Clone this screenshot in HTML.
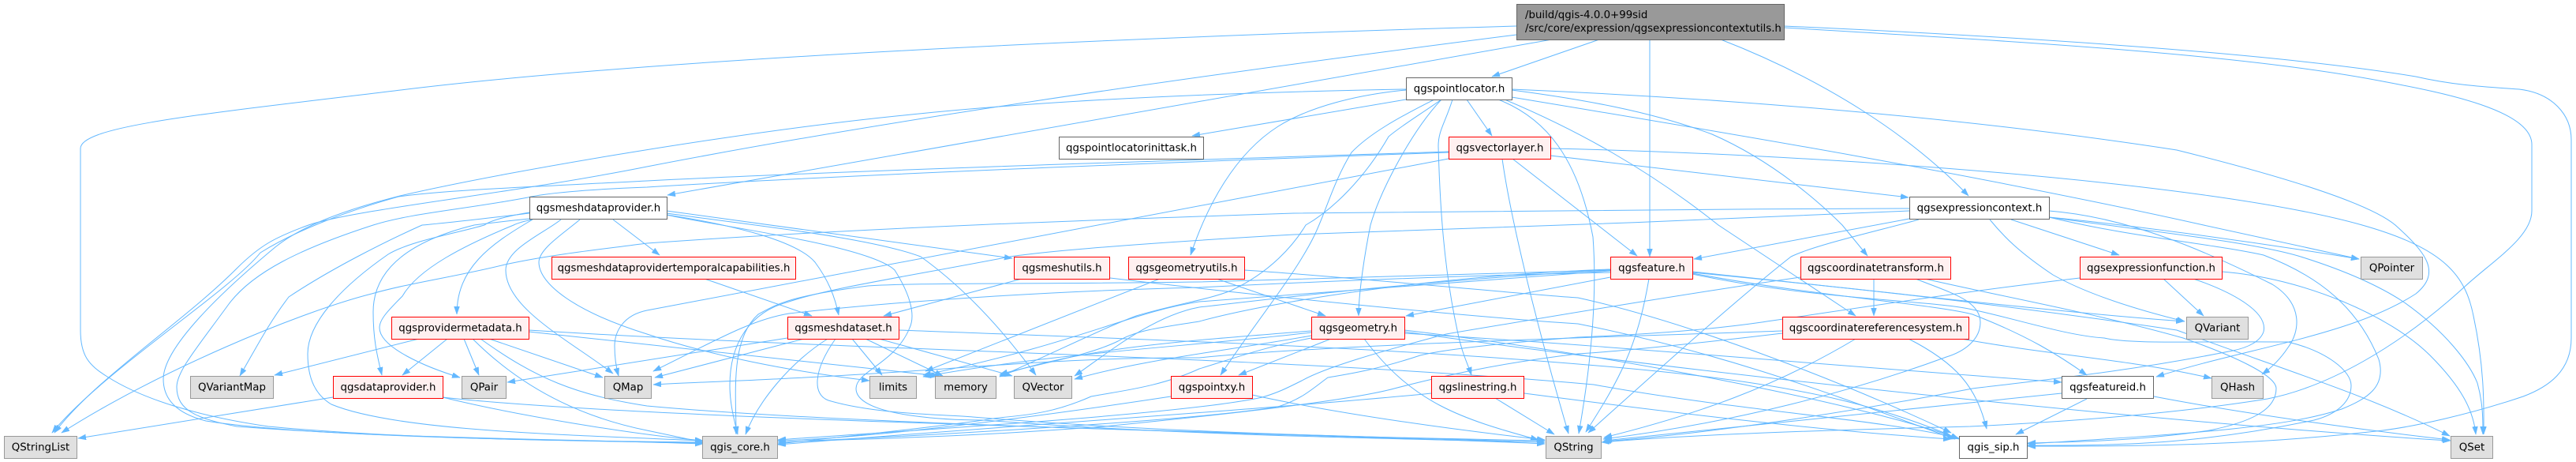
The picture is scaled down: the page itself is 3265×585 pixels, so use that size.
<!DOCTYPE html>
<html>
<head>
<meta charset="utf-8">
<title>qgsexpressioncontextutils.h include graph</title>
<style>
html,body{margin:0;padding:0;background:#fff;width:3265px;height:585px;overflow:hidden}
svg{display:block}
text{font-family:"DejaVu Sans","Liberation Sans",sans-serif;font-size:13.33px;fill:#000;text-anchor:middle}
.e path{fill:none;stroke:#63b8ff;stroke-width:1;marker-end:url(#a)}
.w{fill:#fff;stroke:#666;stroke-width:1}
.r{fill:#fff0f0;stroke:#f00;stroke-width:1}
.g{fill:#e0e0e0;stroke:#999;stroke-width:1}
</style>
</head>
<body>
<svg xmlns="http://www.w3.org/2000/svg" width="3265" height="585" viewBox="0 0 3265 585">
<defs>
<marker id="a" markerUnits="userSpaceOnUse" markerWidth="12" markerHeight="9" refX="10" refY="3.5" orient="auto"><path d="M0 0L10 3.5L0 7z" fill="#63b8ff" stroke="#63b8ff" stroke-width="0.5"/></marker>
</defs>
<g class="e">
<path d="M2027 50L1891 97"/>
<path d="M2091 50L2091 325"/>
<path d="M2181 50C2310 100 2420 170 2495 248"/>
<path d="M1922 33C1400 48 820 75 500 115C250 145 102 160 102 188L102 418C102 450 112 462 136 477C180 505 250 527 340 540C500 555 700 558 891 561"/>
<path d="M1922 44C1600 85 1160 145 820 211C650 245 450 265 391 285C350 300 330 310 300 340C230 410 120 480 69 548"/>
<path d="M1967 50L846 247"/>
<path d="M2261 33C2600 48 2900 70 3062 97C3110 108 3150 110 3193 113C3235 118 3259 145 3259 177L3259 428C3259 470 3230 490 3198 502C3130 525 3060 540 3020 545C2850 565 2700 565 2570 565"/>
<path d="M2261 35C2600 55 2850 70 3020 103C3100 118 3209 140 3209 183L3209 267C3209 300 3160 330 3125 362C3040 440 2950 490 2874 505C2750 525 2600 535 2497 540C2300 545 2150 550 2030 560"/>
<path d="M1782 113C1500 118 1300 130 1155 145C950 165 650 215 507 248C440 265 384 285 350 312C280 370 207 440 207 480C207 510 230 525 261 533C400 555 700 555 891 562"/>
<path d="M1782 126L1511 172"/>
<path d="M1782 114C1720 120 1660 135 1620 160C1565 195 1530 260 1509 323"/>
<path d="M1818 126C1770 150 1735 170 1713 193C1690 230 1680 270 1665 300C1640 350 1590 410 1547 475"/>
<path d="M1827 126C1800 145 1775 160 1760 173C1730 225 1690 265 1655 285C1640 310 1610 345 1560 368C1530 380 1490 385 1440 400C1400 415 1350 440 1267 477"/>
<path d="M1827 126C1790 165 1750 240 1737 285C1730 320 1722 370 1722 400"/>
<path d="M1841 126C1832 155 1823 165 1823 185C1825 260 1830 340 1847 418C1852 445 1860 460 1865 475"/>
<path d="M1859 126L1891 172"/>
<path d="M1899 126C1960 150 2000 200 2019 300C2025 380 2015 470 2001 549"/>
<path d="M1907 126C2000 165 2090 215 2178 285L2352 400"/>
<path d="M1916 114C2000 125 2090 140 2170 170C2250 205 2310 260 2335 285L2367 324"/>
<path d="M1916 113C2200 125 2500 150 2759 190C2880 220 3000 255 3036 285C3075 320 3095 345 3062 372C2980 425 2850 440 2733 477"/>
<path d="M1916 123C2200 170 2500 220 2793 285L2990 328"/>
<path d="M1917 201L2075 324"/>
<path d="M1904 201C1915 280 1950 420 1988 549"/>
<path d="M1965 197L2419 250"/>
<path d="M1965 188C2300 195 2800 230 2994 285C3100 315 3125 350 3135 400C3150 470 3148 520 3148 550"/>
<path d="M1836 192C1500 203 1100 215 820 229C690 236 570 240 505 249C430 270 370 295 330 320C290 370 130 470 66 548"/>
<path d="M1836 193C1500 205 1100 220 820 237C740 240 690 245 669 250C590 265 520 270 473 285C380 315 320 345 290 385C250 440 224 470 224 490C224 520 250 530 300 540C500 555 700 558 891 560"/>
<path d="M1836 201L820 393C790 399 779 420 779 438C779 450 780 462 784 476"/>
<path d="M671 269C640 274 620 280 614 285C580 295 520 305 492 322C430 365 390 410 390 448C390 480 400 500 420 512C500 545 700 550 891 558"/>
<path d="M671 277C640 280 625 282 601 285C520 305 473 340 473 395C473 430 478 450 484 475"/>
<path d="M675 278C665 280 655 283 651 285C590 310 530 340 510 375C490 395 481 405 481 415C481 440 540 465 583 478"/>
<path d="M675 278C620 310 579 340 579 398"/>
<path d="M711 278C690 295 641 315 641 342C641 390 720 430 777 473"/>
<path d="M735 278C715 295 683 315 683 332C683 360 730 395 820 423C900 450 1000 470 1102 482"/>
<path d="M777 278L836 323"/>
<path d="M845 267L1283 327"/>
<path d="M845 272C930 285 1010 305 1033 332C1050 355 1058 375 1063 399"/>
<path d="M845 272C900 285 1100 310 1134 342C1155 375 1160 400 1153 415C1135 460 1085 470 1085 492C1085 530 1220 532 1247 532C1500 552 1800 556 1958 560"/>
<path d="M845 270C950 285 1100 300 1167 325C1230 370 1280 430 1313 475"/>
<path d="M671 270C620 276 570 282 535 285C490 305 420 340 366 376C340 410 325 440 304 476"/>
<path d="M893 353L1029 400"/>
<path d="M1019 429L830 478"/>
<path d="M998 428L643 484"/>
<path d="M1049 429C1000 460 960 510 945 550"/>
<path d="M1059 429C1030 470 1030 500 1050 507C1110 525 1200 525 1233 528C1500 550 1800 555 1958 558"/>
<path d="M1080 429L1118 475"/>
<path d="M1097 429L1195 476"/>
<path d="M1114 429L1283 476"/>
<path d="M1140 418C1400 428 1800 440 2100 470C2300 490 2400 520 2483 556"/>
<path d="M1295 353L1120 400"/>
<path d="M1407 352C1600 375 1850 400 2000 410C2200 450 2350 510 2478 556"/>
<path d="M1470 353L1173 470"/>
<path d="M1542 353L1680 400"/>
<path d="M1577 342C1700 350 1900 370 2000 377C2150 410 2350 490 2473 548"/>
<path d="M1687 429L1570 475"/>
<path d="M1729 429C1790 510 1850 530 1950 557"/>
<path d="M1662 419C1500 432 1370 440 1267 476"/>
<path d="M1662 421C1500 440 1350 445 1170 477"/>
<path d="M1662 425C1550 445 1450 455 1362 480"/>
<path d="M1662 428C1600 440 1560 455 1520 467C1470 490 1420 495 1383 502C1320 530 1280 525 1247 532C1150 545 1050 555 986 562"/>
<path d="M1780 418C2050 450 2350 510 2473 552"/>
<path d="M1780 420C2200 480 2800 540 3106 558"/>
<path d="M1780 422C2000 435 2267 458 2520 477L2613 484"/>
<path d="M670 418C1100 445 1600 450 2020 487C2200 520 2380 530 2483 555"/>
<path d="M670 420L1190 476"/>
<path d="M2041 351L1782 400"/>
<path d="M2090 353C2075 440 2053 480 2010 547"/>
<path d="M2041 342C1800 355 1600 380 1520 389C1460 400 1400 450 1362 476"/>
<path d="M2041 341C1800 350 1600 385 1520 407C1470 415 1440 418 1417 432C1380 450 1320 460 1267 474"/>
<path d="M2041 345C1800 350 1600 360 1520 364C1350 368 1150 380 1000 397C950 405 900 435 828 470"/>
<path d="M2041 343C1800 360 1600 375 1520 382C1433 395 1367 435 1170 475"/>
<path d="M2041 342C1800 348 1600 355 1520 357C1300 360 1150 358 1100 362C1000 375 985 385 961 398C925 430 933 500 933 550"/>
<path d="M2420 267C2200 277 1800 293 1640 297C1500 305 1350 315 1280 325C1150 350 1050 365 1000 382C950 395 925 435 925 488C925 510 930 530 935 550"/>
<path d="M2145 344C2350 365 2600 395 2768 407"/>
<path d="M2145 346C2300 375 2450 385 2500 398C2570 425 2610 450 2645 475"/>
<path d="M2145 345C2300 360 2500 380 2759 418C2900 470 3000 500 3105 552"/>
<path d="M2145 347C2300 380 2450 380 2500 392C2560 405 2620 425 2667 428C2700 436 2780 432 2900 433C2950 445 2980 470 2980 488C2980 510 2960 525 2933 532C2800 560 2700 565 2570 564"/>
<path d="M2440 353C2520 372 2650 395 2767 428C2830 450 2885 475 2885 492C2885 520 2850 535 2800 545C2700 560 2600 560 2570 561"/>
<path d="M2420 264C2100 265 1700 268 1640 270C1400 278 1100 288 820 308C760 316 700 322 640 335C580 350 520 358 471 372C380 395 200 470 78 548"/>
<path d="M2420 277L2147 328"/>
<path d="M2432 278C2390 290 2300 310 2270 325C2200 380 2100 470 2013 548"/>
<path d="M2522 278C2540 300 2560 320 2602 348C2650 375 2720 395 2769 407"/>
<path d="M2549 278L2686 323"/>
<path d="M2597 267C2700 275 2800 320 2880 360C2920 385 2915 420 2900 440C2890 455 2880 465 2867 474"/>
<path d="M2597 275C2700 285 2850 305 2990 328"/>
<path d="M2597 275C2700 300 2800 308 2869 323C2940 350 2989 390 3015 455C3025 490 3000 505 2968 518C2900 540 2800 548 2570 562"/>
<path d="M2597 275C2700 290 2850 305 2916 325C2980 345 3020 365 3046 382C3100 420 3130 460 3140 485C3147 510 3147 530 3147 550"/>
<path d="M2742 353L2793 400"/>
<path d="M2780 353C2830 370 2875 395 2869 420C2865 432 2850 440 2830 444C2700 470 2600 480 2500 492C2300 530 2150 550 2032 559"/>
<path d="M2816 344C2920 352 3030 400 3080 450C3120 490 3135 520 3138 550"/>
<path d="M2636 352C2500 368 2387 385 2233 408C2150 420 2050 425 2000 427C1900 435 1833 442 1800 450C1740 470 1700 475 1683 478C1660 495 1650 505 1620 515C1500 535 1100 555 986 560"/>
<path d="M2375 353L2375 400"/>
<path d="M2282 351C2150 370 2000 395 1833 423C1750 445 1680 465 1650 482C1630 492 1620 497 1600 503C1500 525 1150 545 986 557"/>
<path d="M2428 353C2470 370 2510 380 2510 408C2510 430 2490 445 2467 452C2350 495 2200 535 2032 556"/>
<path d="M2259 422C2150 435 2050 445 2000 448C1900 460 1833 475 1767 492C1700 510 1500 530 1400 540C1200 555 1100 555 986 560"/>
<path d="M2352 429C2250 490 2150 525 2033 554"/>
<path d="M2419 429C2480 460 2505 490 2518 543"/>
<path d="M2486 429C2600 450 2700 455 2803 479"/>
<path d="M2259 419C2100 425 1700 435 1520 453C1333 452 1200 470 1000 479C950 482 880 484 828 487"/>
<path d="M2645 505L2555 550"/>
<path d="M2613 498C2400 520 2200 540 2033 558"/>
<path d="M2730 502C2850 525 3000 545 3105 557"/>
<path d="M1484 502C1300 530 1100 555 986 558"/>
<path d="M1587 500C1700 525 1850 545 1958 557"/>
<path d="M1895 504L1970 550"/>
<path d="M1814 498C1650 515 1200 545 986 563"/>
<path d="M1932 498C2100 520 2300 545 2473 556"/>
<path d="M531 429L348 475"/>
<path d="M567 429L510 475"/>
<path d="M588 429L607 475"/>
<path d="M620 429L764 478"/>
<path d="M609 429C680 480 730 500 820 514C1100 540 1700 550 1958 562"/>
<path d="M599 429C650 480 720 525 820 545L891 560"/>
<path d="M422 503L99 555"/>
<path d="M561 503C800 530 1500 545 1958 560"/>
<path d="M561 503C650 525 800 550 891 558"/>
</g>
<g>
<rect x="1922.5" y="5.5" width="339" height="45" style="fill:#999;stroke:#666"/>
<text x="1933" y="23" style="text-anchor:start">/build/qgis-4.0.0+99sid</text>
<text x="1933" y="40" style="text-anchor:start">/src/core/expression/qgsexpressioncontextutils.h</text>

<rect class="w" x="1782.5" y="98.5" width="134" height="28"/><text x="1849.5" y="116.5">qgspointlocator.h</text>
<rect class="r" x="1836.5" y="173.5" width="129" height="28"/><text x="1901" y="191.5">qgsvectorlayer.h</text>
<rect class="w" x="1342.5" y="173.5" width="183" height="28"/><text x="1434" y="191.5">qgspointlocatorinittask.h</text>
<rect class="w" x="671.5" y="249.5" width="174" height="28"/><text x="758.5" y="267.5">qgsmeshdataprovider.h</text>
<rect class="w" x="2420.5" y="249.5" width="177" height="28"/><text x="2509" y="267.5">qgsexpressioncontext.h</text>

<rect class="r" x="699.5" y="325.5" width="309" height="28"/><text x="854" y="343.5">qgsmeshdataprovidertemporalcapabilities.h</text>
<rect class="r" x="1285.5" y="325.5" width="121" height="28"/><text x="1346" y="343.5">qgsmeshutils.h</text>
<rect class="r" x="1430.5" y="325.5" width="147" height="28"/><text x="1504" y="343.5">qgsgeometryutils.h</text>
<rect class="r" x="2041.5" y="325.5" width="104" height="28"/><text x="2093.5" y="343.5">qgsfeature.h</text>
<rect class="r" x="2282.5" y="325.5" width="190" height="28"/><text x="2377.5" y="343.5">qgscoordinatetransform.h</text>
<rect class="r" x="2636.5" y="325.5" width="180" height="28"/><text x="2726.5" y="343.5">qgsexpressionfunction.h</text>
<rect class="g" x="2992.5" y="325.5" width="78" height="28"/><text x="3031.5" y="343.5">QPointer</text>

<rect class="r" x="496.5" y="401.5" width="174" height="28"/><text x="583.5" y="419.5">qgsprovidermetadata.h</text>
<rect class="r" x="998.5" y="401.5" width="141" height="28"/><text x="1069" y="419.5">qgsmeshdataset.h</text>
<rect class="r" x="1662.5" y="401.5" width="118" height="28"/><text x="1721.5" y="419.5">qgsgeometry.h</text>
<rect class="r" x="2259.5" y="401.5" width="236" height="28"/><text x="2377.5" y="419.5">qgscoordinatereferencesystem.h</text>
<rect class="g" x="2771.5" y="401.5" width="78" height="28"/><text x="2810.5" y="419.5">QVariant</text>

<rect class="g" x="241.5" y="476.5" width="105" height="28"/><text x="294" y="494.5">QVariantMap</text>
<rect class="r" x="422.5" y="476.5" width="139" height="28"/><text x="492" y="494.5">qgsdataprovider.h</text>
<rect class="g" x="585.5" y="476.5" width="56" height="28"/><text x="613.5" y="494.5">QPair</text>
<rect class="g" x="766.5" y="476.5" width="59" height="28"/><text x="796" y="494.5">QMap</text>
<rect class="g" x="1102.5" y="476.5" width="59" height="28"/><text x="1132" y="494.5">limits</text>
<rect class="g" x="1185.5" y="476.5" width="77" height="28"/><text x="1224" y="494.5">memory</text>
<rect class="g" x="1285.5" y="476.5" width="73" height="28"/><text x="1322" y="494.5">QVector</text>
<rect class="r" x="1484.5" y="476.5" width="103" height="28"/><text x="1536" y="494.5">qgspointxy.h</text>
<rect class="r" x="1814.5" y="476.5" width="117" height="28"/><text x="1873" y="494.5">qgslinestring.h</text>
<rect class="w" x="2613.5" y="476.5" width="116" height="28"/><text x="2671.5" y="494.5">qgsfeatureid.h</text>
<rect class="g" x="2803.5" y="476.5" width="65" height="28"/><text x="2836" y="494.5">QHash</text>

<rect class="g" x="5.5" y="552.5" width="92" height="28"/><text x="51.5" y="570.5">QStringList</text>
<rect class="g" x="890.5" y="552.5" width="95" height="28"/><text x="938" y="570.5">qgis_core.h</text>
<rect class="g" x="1959.5" y="552.5" width="70" height="28"/><text x="1994.5" y="570.5">QString</text>
<rect class="w" x="2483.5" y="552.5" width="86" height="28"/><text x="2526.5" y="570.5">qgis_sip.h</text>
<rect class="g" x="3106.5" y="552.5" width="53" height="28"/><text x="3133" y="570.5">QSet</text>
</g>
</svg>
</body>
</html>
